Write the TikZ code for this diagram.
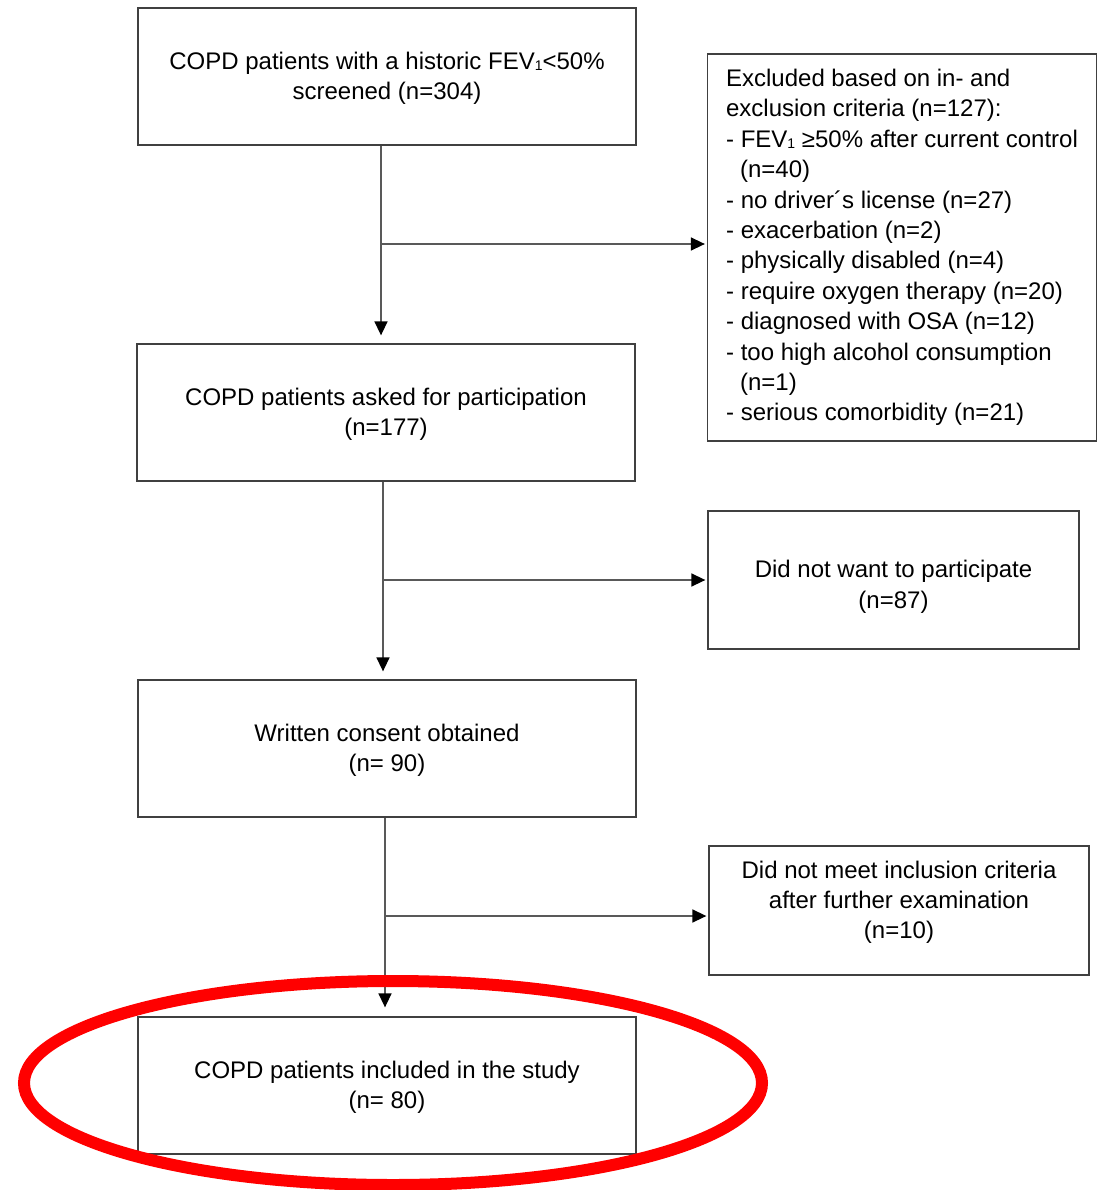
\documentclass[tikz,border=0pt]{standalone}
\usepackage{fontspec}
\setmainfont{Liberation Sans}
\usetikzlibrary{arrows.meta}

% small subscript as in the source figure
\newcommand{\subone}{\raisebox{-1pt}{\fontsize{14}{14}\selectfont 1}}
% lines of text moved up/down inside a box, box size unchanged
\newcommand{\movetext}[2]{\raisebox{#1}[\height][\depth]{\begin{tabular}{@{}c@{}}#2\end{tabular}}}

\tikzset{
	flowbox/.style={draw=black!75,line width=1.3pt,minimum width=498pt,minimum height=137pt,
		align=center,inner sep=0pt,font=\fontsize{24}{30.4}\selectfont},
	sidebox/.style={draw=black!75,line width=1.3pt,inner sep=0pt,font=\fontsize{24}{30.4}\selectfont},
	flowarrow/.style={draw=black!65,line width=1.5pt,-{Triangle[length=14pt,width=13pt,color=black]}}
}

\begin{document}
\begin{tikzpicture}[x=1pt,y=-1pt]
		\useasboundingbox (0,0) rectangle (1097,1190);
		% main column
		\node[flowbox] (screened) at (387,76.5) {\movetext{-2pt}{COPD patients with a historic FEV\subone<50\%\\screened (n=304)}};
		\node[flowbox] (asked) at (386,412.5) {\movetext{-2pt}{COPD patients asked for participation\\(n=177)}};
		\node[flowbox] (consent) at (387,748.5) {\movetext{-2pt}{Written consent obtained\\(n= 90)}};
		\node[flowbox] (included) at (387,1085.5) {\movetext{-2pt}{COPD patients included in the study\\(n= 80)}};
		% side boxes
		\node[sidebox,minimum width=389pt,minimum height=387pt,align=left] (excluded) at (902,247.5) {Excluded based on in- and\\exclusion criteria (n=127):\\- FEV\subone\ ≥50\% after current control\\\hspace*{14pt}(n=40)\\- no driver´s license (n=27)\\- exacerbation (n=2)\\- physically disabled (n=4)\\- require oxygen therapy (n=20)\\- diagnosed with OSA (n=12)\\- too high alcohol consumption\\\hspace*{14pt}(n=1)\\- serious comorbidity (n=21)};
		\node[sidebox,minimum width=371pt,minimum height=138pt] (refused) at (893.5,580) {\movetext{-7pt}{Did not want to participate\\(n=87)}};
		\node[sidebox,minimum width=380pt,minimum height=129pt] (notmet) at (899,910.5) {\movetext{8pt}{Did not meet inclusion criteria\\after further examination\\(n=10)}};
		% branch points
		\coordinate (b1) at (381,244);
		\coordinate (b2) at (383,580);
		\coordinate (b3) at (385,916);
		\draw[flowarrow,shorten >=8pt] (screened.south -| b1) -- (asked.north -| b1);
		\draw[flowarrow,shorten >=8pt] (asked.south -| b2) -- (consent.north -| b2);
		\draw[flowarrow,shorten >=9pt] (consent.south -| b3) -- (included.north -| b3);
		\draw[flowarrow,shorten >=2pt] (b1) -- (excluded.west |- b1);
		\draw[flowarrow,shorten >=2pt] (b2) -- (refused.west |- b2);
		\draw[flowarrow,shorten >=2pt] (b3) -- (notmet.west |- b3);
		% highlight
		\draw[red,line width=12pt] (393,1083) ellipse (369 and 102);
	\end{tikzpicture}
\end{document}
